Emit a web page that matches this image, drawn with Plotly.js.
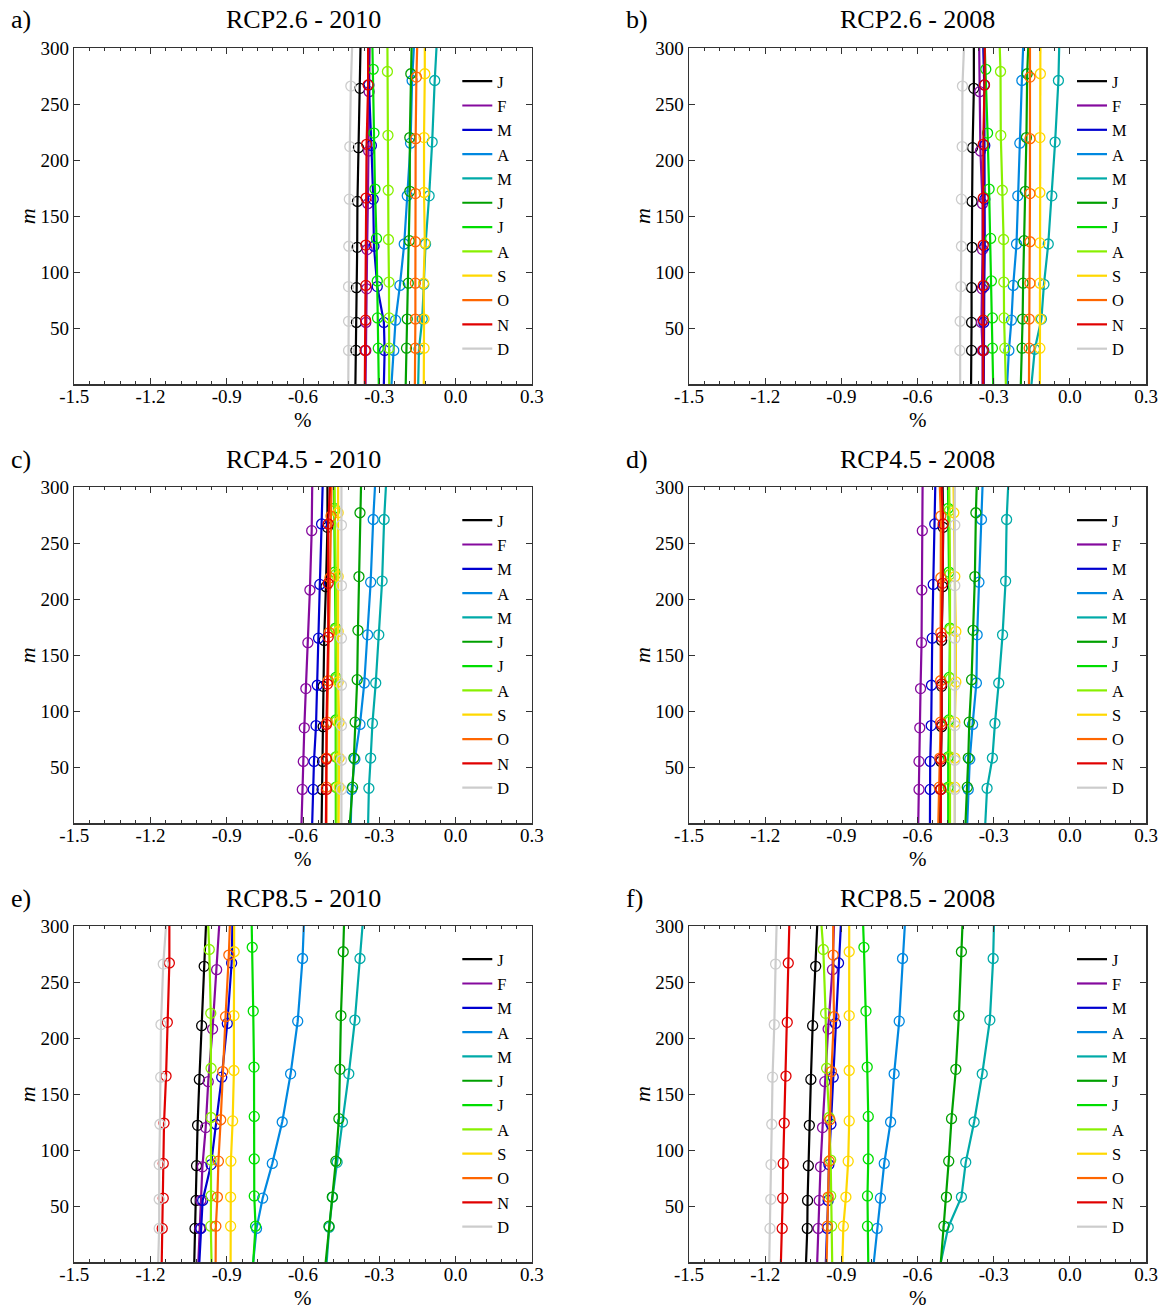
<!DOCTYPE html>
<html><head><meta charset="utf-8">
<script src="https://cdn.plot.ly/plotly-3.0.1.min.js"></script>
<style>html,body{margin:0;padding:0;background:#fff;}#chart{width:1168px;height:1309px;}</style>
</head><body><div id="chart"></div>
<script>
// ---- data ----
const months = ['J','F','M','A','M','J','J','A','S','O','N','D'];
const monthColors = ['#000000','#850a9e','#0000d0','#0088e0','#00aaa8','#00a000','#00dd00','#88f000','#ffd800','#ff6600','#e00000','#cccccc'];
// marker depths (m) per month, bottom to top
const markerDepths = [
  [30,55,86,122,163,211,264],
  [30,55,85,120,161,208,261],
  [30,55,87,123,165,213,267],
  [30,57,88,125,168,215,271],
  [31,58,89,125,168,216,271],
  [32,58,90,128,172,220,277],
  [32,59,92,130,174,224,281],
  [32,59,91,129,173,222,279],
  [32,58,90,126,171,220,277],
  [32,58,90,127,170,219,274],
  [30,57,88,124,166,214,267],
  [30,56,87,123,165,212,266]
];
const surfaceDepth = 300;
const bottomDepth = 0;
// values (%) per month: [at bottom, 7 marker values, at 300 m]
const rcp26_2010 = [
  [-0.394,-0.392,-0.390,-0.390,-0.387,-0.386,-0.382,-0.376,-0.374],
  [-0.354,-0.353,-0.353,-0.350,-0.348,-0.345,-0.342,-0.340,-0.338],
  [-0.282,-0.279,-0.282,-0.308,-0.321,-0.324,-0.331,-0.341,-0.343],
  [-0.252,-0.243,-0.236,-0.219,-0.202,-0.190,-0.177,-0.171,-0.164],
  [-0.147,-0.144,-0.131,-0.125,-0.118,-0.104,-0.092,-0.082,-0.075],
  [-0.196,-0.193,-0.190,-0.186,-0.182,-0.180,-0.180,-0.176,-0.173],
  [-0.302,-0.304,-0.307,-0.308,-0.311,-0.317,-0.321,-0.324,-0.327],
  [-0.261,-0.261,-0.261,-0.262,-0.264,-0.265,-0.266,-0.268,-0.268],
  [-0.125,-0.124,-0.124,-0.126,-0.121,-0.124,-0.124,-0.121,-0.121],
  [-0.160,-0.158,-0.158,-0.158,-0.158,-0.158,-0.157,-0.154,-0.151],
  [-0.357,-0.356,-0.354,-0.353,-0.353,-0.352,-0.350,-0.344,-0.344],
  [-0.422,-0.421,-0.421,-0.421,-0.420,-0.418,-0.416,-0.412,-0.407]
];
const rcp26_2008 = [
  [-0.389,-0.387,-0.387,-0.387,-0.385,-0.385,-0.383,-0.378,-0.378],
  [-0.344,-0.344,-0.348,-0.345,-0.344,-0.344,-0.352,-0.355,-0.357],
  [-0.339,-0.339,-0.339,-0.337,-0.335,-0.335,-0.335,-0.337,-0.341],
  [-0.247,-0.240,-0.230,-0.223,-0.210,-0.205,-0.197,-0.189,-0.184],
  [-0.151,-0.138,-0.112,-0.102,-0.085,-0.071,-0.058,-0.045,-0.042],
  [-0.193,-0.188,-0.186,-0.184,-0.180,-0.175,-0.171,-0.168,-0.164],
  [-0.302,-0.305,-0.305,-0.309,-0.312,-0.318,-0.324,-0.331,-0.335],
  [-0.252,-0.256,-0.259,-0.260,-0.261,-0.266,-0.272,-0.273,-0.276],
  [-0.118,-0.118,-0.116,-0.118,-0.118,-0.118,-0.118,-0.116,-0.116],
  [-0.161,-0.160,-0.160,-0.157,-0.157,-0.157,-0.157,-0.157,-0.157],
  [-0.341,-0.341,-0.341,-0.341,-0.341,-0.341,-0.341,-0.336,-0.335],
  [-0.432,-0.433,-0.432,-0.429,-0.427,-0.427,-0.424,-0.423,-0.417]
];
const rcp45_2010 = [
  [-0.527,-0.525,-0.523,-0.521,-0.521,-0.517,-0.510,-0.504,-0.504],
  [-0.606,-0.603,-0.599,-0.595,-0.589,-0.581,-0.573,-0.566,-0.564],
  [-0.564,-0.560,-0.557,-0.549,-0.544,-0.539,-0.534,-0.527,-0.523],
  [-0.412,-0.409,-0.396,-0.376,-0.359,-0.346,-0.334,-0.324,-0.317],
  [-0.344,-0.341,-0.334,-0.327,-0.314,-0.302,-0.289,-0.281,-0.274],
  [-0.416,-0.405,-0.400,-0.395,-0.387,-0.384,-0.380,-0.376,-0.372],
  [-0.471,-0.471,-0.471,-0.471,-0.471,-0.472,-0.475,-0.477,-0.478],
  [-0.468,-0.468,-0.468,-0.468,-0.468,-0.471,-0.471,-0.475,-0.476],
  [-0.460,-0.458,-0.458,-0.458,-0.462,-0.462,-0.462,-0.462,-0.462],
  [-0.508,-0.508,-0.508,-0.505,-0.501,-0.497,-0.494,-0.490,-0.488],
  [-0.510,-0.508,-0.508,-0.508,-0.504,-0.501,-0.501,-0.501,-0.494],
  [-0.449,-0.449,-0.449,-0.449,-0.449,-0.449,-0.449,-0.449,-0.449]
];
const rcp45_2008 = [
  [-0.512,-0.509,-0.508,-0.505,-0.505,-0.505,-0.501,-0.499,-0.501],
  [-0.597,-0.594,-0.594,-0.591,-0.588,-0.584,-0.583,-0.581,-0.580],
  [-0.551,-0.550,-0.550,-0.546,-0.545,-0.542,-0.538,-0.532,-0.530],
  [-0.404,-0.400,-0.394,-0.383,-0.368,-0.365,-0.358,-0.348,-0.344],
  [-0.333,-0.326,-0.305,-0.295,-0.280,-0.265,-0.253,-0.249,-0.243],
  [-0.411,-0.404,-0.400,-0.396,-0.387,-0.381,-0.374,-0.370,-0.367],
  [-0.479,-0.479,-0.479,-0.476,-0.475,-0.472,-0.476,-0.479,-0.480],
  [-0.472,-0.472,-0.472,-0.472,-0.470,-0.470,-0.472,-0.474,-0.475],
  [-0.453,-0.453,-0.453,-0.453,-0.449,-0.449,-0.453,-0.457,-0.458],
  [-0.518,-0.514,-0.512,-0.509,-0.509,-0.508,-0.508,-0.508,-0.512],
  [-0.508,-0.508,-0.508,-0.505,-0.505,-0.505,-0.501,-0.499,-0.505],
  [-0.453,-0.453,-0.453,-0.453,-0.453,-0.453,-0.453,-0.453,-0.453]
];
const rcp85_2010 = [
  [-1.028,-1.025,-1.021,-1.019,-1.015,-1.008,-0.999,-0.989,-0.982],
  [-1.012,-1.006,-1.002,-0.996,-0.983,-0.973,-0.956,-0.940,-0.930],
  [-1.008,-1.002,-0.995,-0.962,-0.943,-0.920,-0.898,-0.881,-0.878],
  [-0.796,-0.783,-0.759,-0.721,-0.682,-0.649,-0.621,-0.602,-0.597],
  [-0.507,-0.497,-0.484,-0.466,-0.445,-0.420,-0.396,-0.376,-0.366],
  [-0.511,-0.498,-0.485,-0.471,-0.459,-0.455,-0.451,-0.442,-0.439],
  [-0.796,-0.787,-0.792,-0.792,-0.792,-0.793,-0.796,-0.800,-0.802],
  [-0.960,-0.963,-0.962,-0.962,-0.962,-0.962,-0.963,-0.969,-0.973],
  [-0.885,-0.885,-0.885,-0.884,-0.877,-0.872,-0.872,-0.871,-0.871],
  [-0.944,-0.943,-0.937,-0.933,-0.924,-0.916,-0.905,-0.892,-0.888],
  [-1.156,-1.154,-1.150,-1.150,-1.147,-1.139,-1.134,-1.126,-1.126],
  [-1.170,-1.166,-1.166,-1.166,-1.163,-1.160,-1.159,-1.150,-1.139]
];
const rcp85_2008 = [
  [-1.039,-1.034,-1.033,-1.030,-1.026,-1.020,-1.013,-1.001,-0.995],
  [-0.995,-0.991,-0.987,-0.982,-0.974,-0.965,-0.952,-0.935,-0.929],
  [-0.961,-0.955,-0.952,-0.949,-0.941,-0.932,-0.923,-0.911,-0.902],
  [-0.772,-0.759,-0.746,-0.731,-0.706,-0.692,-0.672,-0.659,-0.650],
  [-0.508,-0.479,-0.427,-0.410,-0.377,-0.345,-0.315,-0.302,-0.299],
  [-0.508,-0.496,-0.486,-0.477,-0.466,-0.449,-0.437,-0.427,-0.423],
  [-0.794,-0.797,-0.797,-0.794,-0.794,-0.798,-0.803,-0.811,-0.814],
  [-0.936,-0.938,-0.942,-0.942,-0.948,-0.958,-0.962,-0.971,-0.978],
  [-0.896,-0.892,-0.882,-0.873,-0.869,-0.869,-0.869,-0.869,-0.869],
  [-0.958,-0.955,-0.952,-0.948,-0.945,-0.939,-0.929,-0.932,-0.932],
  [-1.138,-1.133,-1.131,-1.129,-1.125,-1.118,-1.113,-1.109,-1.105],
  [-1.184,-1.181,-1.178,-1.177,-1.174,-1.171,-1.164,-1.159,-1.155]
];
const panelTitles = ['RCP2.6 - 2010','RCP2.6 - 2008','RCP4.5 - 2010','RCP4.5 - 2008','RCP8.5 - 2010','RCP8.5 - 2008'];
const panelLabels = ['a)','b)','c)','d)','e)','f)'];
const panelData = [rcp26_2010, rcp26_2008, rcp45_2010, rcp45_2008, rcp85_2010, rcp85_2008];
const xTickVals = [-1.5,-1.2,-0.9,-0.6,-0.3,0.0,0.3];
const xTickText = ['-1.5','-1.2','-0.9','-0.6','-0.3','0.0','0.3'];
const yTickVals = [50,100,150,200,250,300];
const yTickText = ['50','100','150','200','250','300'];
const xLabel = '%';
const yLabel = 'm';

// ---- layout geometry (pixels) ----
const W = 1168, H = 1309;
const colLeft = [74.3, 689], colRight = [531.8, 1146];
const rowTop = [48, 487, 926], rowH = 336;
const px = x => x / W, py = y => 1 - y / H;
const SERIF = 'Liberation Serif, Times New Roman, serif';
const AX = '#333';

const traces = [];
const layout = {
  width: W, height: H, margin: {l:0, r:0, t:0, b:0},
  paper_bgcolor: '#fff', plot_bgcolor: '#fff', showlegend: true,
  annotations: []
};

panelData.forEach((pd, p) => {
  const col = p % 2, row = Math.floor(p / 2);
  const n = p + 1;
  const xa = n === 1 ? 'x' : 'x' + n, ya = n === 1 ? 'y' : 'y' + n;
  const xk = n === 1 ? 'xaxis' : 'xaxis' + n, yk = n === 1 ? 'yaxis' : 'yaxis' + n;
  const lg = n === 1 ? 'legend' : 'legend' + n;
  const L = colLeft[col], R = colRight[col], T = rowTop[row], B = T + rowH;
  layout[xk] = {
    domain: [px(L), px(R)], anchor: ya, range: [-1.5, 0.3],
    tickmode: 'array', tickvals: xTickVals, ticktext: xTickText,
    ticks: 'inside', ticklen: 6, tickwidth: 1, tickcolor: AX, ticklabelstandoff: -5,
    minor: {tickmode: 'linear', tick0: 0, dtick: 0.06, ticks: 'inside', ticklen: 3, tickcolor: AX, tickwidth: 1, showgrid: false},
    showline: true, linecolor: AX, linewidth: 1.5, mirror: 'allticks',
    showgrid: false, zeroline: false, fixedrange: true,
    tickfont: {family: SERIF, size: 19, color: '#000'}
  };
  layout[yk] = {
    domain: [py(B), py(T)], anchor: xa, range: [0, 300],
    tickmode: 'array', tickvals: yTickVals, ticktext: yTickText,
    ticks: 'inside', ticklen: 6, tickwidth: 1, tickcolor: AX,
    showline: true, linecolor: AX, linewidth: 1.5, mirror: 'allticks',
    showgrid: false, zeroline: false, fixedrange: true,
    tickfont: {family: SERIF, size: 19, color: '#000'}
  };
  layout[lg] = {
    x: px(L + 383), y: py(T + 16), xanchor: 'left', yanchor: 'top',
    bgcolor: 'rgba(0,0,0,0)', borderwidth: 0, tracegroupgap: 0,
    font: {family: SERIF, size: 16.4, color: '#000'}, itemwidth: 30
  };
  pd.forEach((vals, m) => {
    const d = markerDepths[m];
    traces.push({
      type: 'scatter', mode: 'lines', xaxis: xa, yaxis: ya, legend: lg,
      x: vals, y: [bottomDepth].concat(d, [surfaceDepth]),
      name: months[m], line: {color: monthColors[m], width: 2.2},
      hoverinfo: 'skip'
    });
    traces.push({
      type: 'scatter', mode: 'markers', xaxis: xa, yaxis: ya, legend: lg, showlegend: false,
      x: vals.slice(1, 8), y: d,
      name: months[m], marker: {symbol: 'circle-open', size: 10, color: monthColors[m], line: {width: 1.3, color: monthColors[m]}},
      hoverinfo: 'skip'
    });
  });
  const cx = (L + R) / 2;
  layout.annotations.push(
    {xref:'paper', yref:'paper', x: px(cx), y: py(T - 28), xanchor:'center', yanchor:'middle', showarrow:false,
     text: panelTitles[p], font:{family: SERIF, size: 26, color:'#000'}},
    {xref:'paper', yref:'paper', x: px(L - 65), y: py(T - 28), xanchor:'left', yanchor:'middle', showarrow:false,
     text: panelLabels[p], font:{family: SERIF, size: 26, color:'#000'}},
    {xref:'paper', yref:'paper', x: px(cx), y: py(B + 36), xanchor:'center', yanchor:'middle', showarrow:false,
     text: xLabel, font:{family: SERIF, size: 21, color:'#000'}},
    {xref:'paper', yref:'paper', x: px(L - 47), y: py(T + rowH * 0.5), xanchor:'center', yanchor:'middle', showarrow:false,
     textangle: -90, text: '<i>' + yLabel + '</i>', font:{family: SERIF, size: 22, color:'#000'}}
  );
});

Plotly.newPlot('chart', traces, layout, {staticPlot: true, displayModeBar: false});
</script></body></html>
